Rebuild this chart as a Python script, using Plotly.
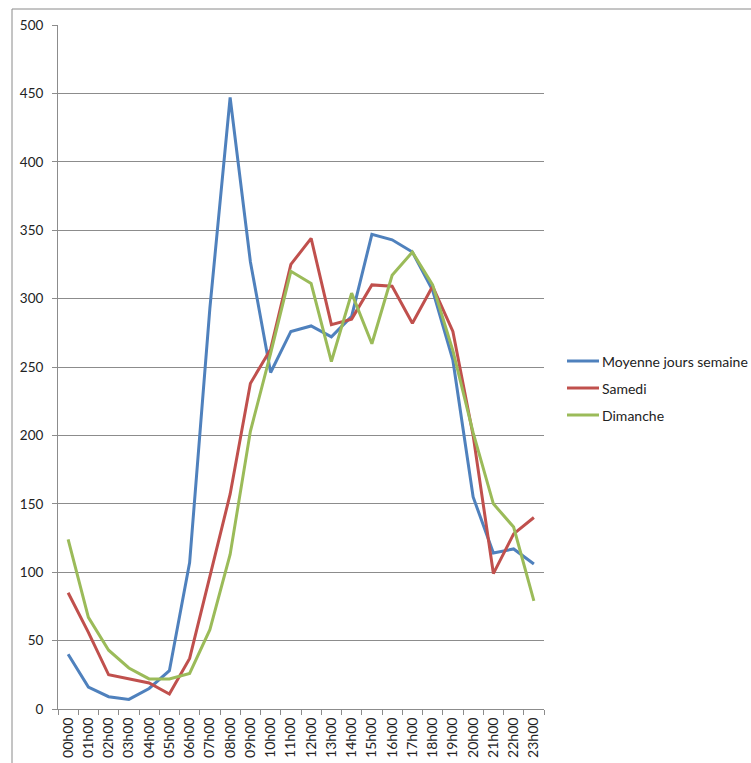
import plotly.graph_objects as go

# Hourly categories
hours = ["00h00", "01h00", "02h00", "03h00", "04h00", "05h00", "06h00", "07h00",
         "08h00", "09h00", "10h00", "11h00", "12h00", "13h00", "14h00", "15h00",
         "16h00", "17h00", "18h00", "19h00", "20h00", "21h00", "22h00", "23h00"]

# Series values per hour
semaine = [40, 16, 9, 7, 15, 28, 107, 293, 447, 327, 246, 276,
           280, 272, 287, 347, 343, 334, 306, 255, 155, 114, 117, 106]
samedi = [85, 56, 25, 22, 19, 11, 37, 97, 157, 238, 263, 325,
          344, 281, 285, 310, 309, 282, 309, 276, 200, 99, 128, 140]
dimanche = [124, 67, 43, 30, 22, 22, 26, 58, 113, 203, 260, 320,
            311, 254, 304, 267, 317, 334, 310, 262, 202, 150, 133, 79]

series = [
    ("Moyenne jours semaine", semaine, "#4F81BD"),
    ("Samedi", samedi, "#C0504D"),
    ("Dimanche", dimanche, "#9BBB59"),
]

W, H = 751, 763
L, R, T, B = 58, 207, 25, 54
pw, ph = W - L - R, H - T - B

def px_x(p):
    return (p - L) / pw

def px_y(p):
    return (H - B - p) / ph

fig = go.Figure()
for name, vals, color in series:
    fig.add_trace(go.Scatter(
        x=hours, y=vals, name=name, mode="lines",
        line=dict(color=color, width=3), showlegend=False,
    ))

# Legend drawn beside the plot: a short line sample and the series name
for i, (name, vals, color) in enumerate(series):
    yy = px_y(361 + 27 * i)
    fig.add_shape(type="line", xref="paper", yref="paper",
                  x0=px_x(567), x1=px_x(599), y0=yy, y1=yy,
                  line=dict(color=color, width=3))
    fig.add_annotation(xref="paper", yref="paper", x=px_x(600), y=yy,
                       xanchor="left", yanchor="middle", showarrow=False,
                       text=name, font=dict(size=14, color="#222222"))

# Outer chart-area frame
fig.add_shape(type="rect", xref="paper", yref="paper",
              x0=px_x(12), x1=px_x(780), y0=px_y(790), y1=px_y(9),
              line=dict(color="#8a8a8a", width=1), fillcolor="rgba(0,0,0,0)")

grid = "#8c8c8c"
fig.update_layout(
    width=W, height=H,
    margin=dict(l=L, r=R, t=T, b=B, pad=0, autoexpand=False),
    paper_bgcolor="white", plot_bgcolor="white",
    font=dict(family="Lato, Liberation Sans, sans-serif", size=13, color="#222222"),
    showlegend=False,
    xaxis=dict(
        type="category", tickangle=-90, showgrid=False, automargin=False,
        showline=True, linecolor=grid, linewidth=1,
        ticks="outside", tickson="boundaries", ticklen=5, tickcolor=grid,
        ticklabelstandoff=2, range=[-0.5, 23.5], tickfont=dict(size=14),
    ),
    yaxis=dict(
        range=[0, 500], dtick=50, showgrid=True, gridcolor=grid, gridwidth=1,
        showline=True, linecolor=grid, linewidth=1, automargin=False,
        ticks="outside", ticklen=5, tickcolor=grid, zeroline=False,
        ticklabelstandoff=6, tickfont=dict(size=13.5),
    ),
)

fig.write_html("out.html")
